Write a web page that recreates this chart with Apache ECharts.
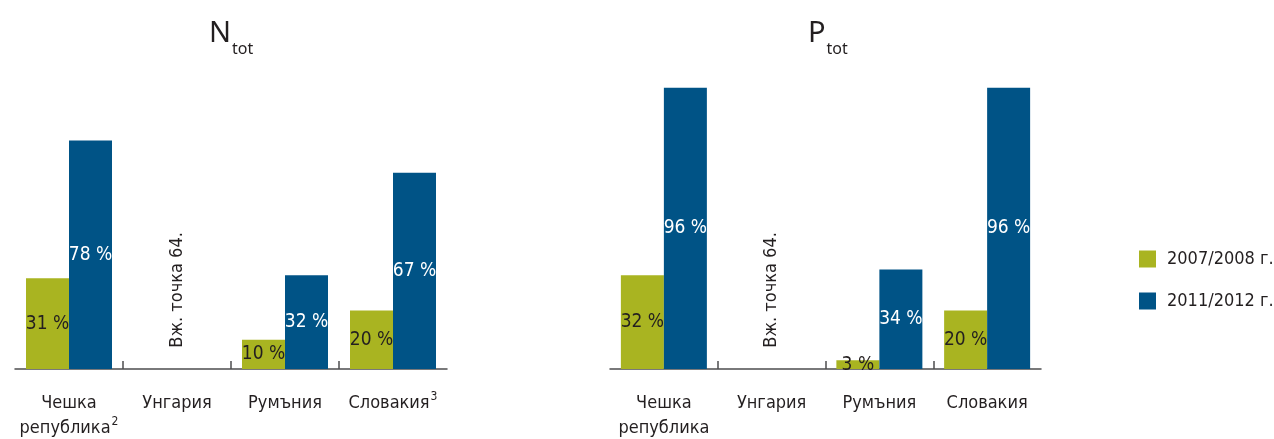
<!DOCTYPE html>
<html>
<head>
<meta charset="utf-8">
<script src="https://cdn.jsdelivr.net/npm/echarts@6/dist/echarts.min.js"></script>
<style>
  html, body { margin: 0; padding: 0; background: #fff; }
  #chart { width: 1274px; height: 439px; }
</style>
</head>
<body>
<div id="chart"></div>
<script>
// categories (same for both panels), footnote marks for the left panel
const countries = ['Чешка\nрепублика', 'Унгария', 'Румъния', 'Словакия'];
const nNotes = ['2', '', '', '3'];
const pNotes = ['', '', '', ''];

// shares in %, null = no data (see note)
const nTot0708 = [31, null, 10, 20];
const nTot1112 = [78, null, 32, 67];
const pTot0708 = [32, null, 3, 20];
const pTot1112 = [96, null, 34, 96];

const seriesNames = ['2007/2008 г.', '2011/2012 г.'];
const noteText = 'Вж. точка 64.';
const noteAt = [null, 27, null, null];   // only Hungary carries the note
const tickValues = [1, 2, 3];            // boundaries between categories

const GREEN = '#a9b421';
const BLUE = '#005386';
const INK = '#231f20';
const AXIS = '#4d4d4f';
const NARROW = "'DejaVu Sans Condensed', 'Liberation Sans Narrow', sans-serif";
const REGULAR = "'Noto Sans', 'Open Sans', sans-serif";

const chart = echarts.init(document.getElementById('chart'), null, {renderer: 'canvas'});

function catLabel(notes) {
  return (value, idx) => {
    const lines = value.split('\n');
    const last = lines.length - 1;
    return lines.map((l, i) => '{n|' + l + '}' + (i === last && notes[idx] ? '{sup|' + notes[idx] + '}' : '')).join('\n');
  };
}

function barSeries(name, data, color, idx, labelColor) {
  return {
    name: name,
    type: 'bar',
    xAxisIndex: idx * 2,
    yAxisIndex: idx,
    data: data,
    barWidth: 43,
    barGap: '0%',
    itemStyle: {color: color},
    label: {
      show: true,
      position: 'inside',
      color: labelColor,
      fontFamily: NARROW,
      fontSize: 19,
      formatter: p => p.value + ' %',
    },
  };
}

// invisible carrier for the rotated "see point 64" note
function noteSeries(idx) {
  return {
    type: 'scatter',
    xAxisIndex: idx * 2,
    yAxisIndex: idx,
    data: noteAt,
    symbolSize: 1,
    silent: true,
    itemStyle: {color: 'rgba(0,0,0,0)'},
    label: {
      show: true,
      position: 'inside',
      rotate: 90,
      color: INK,
      opacity: 1,
      textBorderWidth: 0,
      fontFamily: NARROW,
      fontSize: 18,
      formatter: noteText,
    },
  };
}

function catAxis(grid, notes) {
  return {
    type: 'category',
    gridIndex: grid,
    data: countries,
    axisLine: {lineStyle: {color: AXIS, width: 1.5}},
    axisTick: {show: false},
    axisLabel: {
      interval: 0,
      margin: 22,
      formatter: catLabel(notes),
      rich: {
        n: {fontFamily: NARROW, fontSize: 18, lineHeight: 25, color: INK},
        sup: {fontFamily: NARROW, fontSize: 12, lineHeight: 25, verticalAlign: 'top', color: INK, padding: [0, 0, 8, 1]},
      },
    },
  };
}

function tickAxis(grid) {
  return {
    type: 'value',
    gridIndex: grid,
    min: 0,
    max: 4,
    position: 'bottom',
    axisLine: {show: false},
    splitLine: {show: false},
    axisLabel: {show: false},
    axisTick: {
      show: true,
      inside: true,
      length: 8,
      customValues: tickValues,
      lineStyle: {color: AXIS, width: 1.5},
    },
  };
}

function valAxis(grid) {
  return {type: 'value', gridIndex: grid, min: 0, max: 100, show: false};
}

function titleRich() {
  return {
    a: {fontFamily: REGULAR, fontWeight: 'normal', fontSize: 29, lineHeight: 30, verticalAlign: 'top', color: INK},
    b: {fontFamily: REGULAR, fontWeight: 'normal', fontSize: 16, lineHeight: 60, color: INK, padding: [0, 0, 0, 1]},
  };
}

const option = {
  animation: false,
  backgroundColor: '#fff',
  title: [
    {text: '{a|N}{b|tot}', left: 204, top: 14, textStyle: {fontWeight: 'normal', rich: titleRich()}},
    {text: '{a|P}{b|tot}', left: 803, top: 14, textStyle: {fontWeight: 'normal', rich: titleRich()}},
  ],
  legend: {
    orient: 'vertical',
    left: 1139,
    top: 250,
    padding: 0,
    itemWidth: 17,
    itemHeight: 17,
    itemGap: 24,
    icon: 'rect',
    data: seriesNames,
    textStyle: {color: INK, fontFamily: NARROW, fontSize: 18, padding: [0, 0, 0, 6]},
  },
  grid: [
    {left: 15, width: 432, top: 76, bottom: 70},
    {left: 610, width: 431, top: 76, bottom: 70},
  ],
  xAxis: [catAxis(0, nNotes), tickAxis(0), catAxis(1, pNotes), tickAxis(1)],
  yAxis: [valAxis(0), valAxis(1)],
  series: [
    barSeries(seriesNames[0], nTot0708, GREEN, 0, INK),
    barSeries(seriesNames[1], nTot1112, BLUE, 0, '#fff'),
    noteSeries(0),
    barSeries(seriesNames[0], pTot0708, GREEN, 1, INK),
    barSeries(seriesNames[1], pTot1112, BLUE, 1, '#fff'),
    noteSeries(1),
  ],
};

chart.setOption(option);
</script>
</body>
</html>
